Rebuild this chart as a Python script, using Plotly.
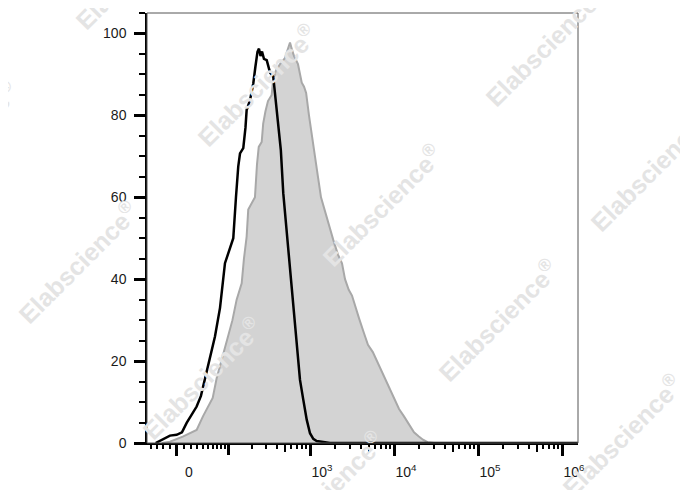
import numpy as np
import plotly.graph_objects as go

# ---------------- data (x = position on the biexponential display scale, in decades;
# 3.0 = 10^3, 4.0 = 10^4 ...; y = % of max) ----------------
black_x = [1.163, 1.268, 1.333, 1.413, 1.476, 1.532, 1.583, 1.651, 1.702, 1.770, 1.821,
           1.869, 1.929, 1.988, 2.027, 2.060, 2.087, 2.119, 2.146, 2.167, 2.206, 2.232,
           2.246, 2.286, 2.325, 2.351, 2.375, 2.393, 2.411, 2.429, 2.452, 2.485, 2.524,
           2.563, 2.607, 2.653, 2.682, 2.723, 2.762, 2.801, 2.842, 2.881, 2.920, 2.961,
           3.000, 3.039, 3.080, 3.155, 3.238, 6.19]
black_y = [0.0, 1.2, 1.8, 2.0, 2.6, 4.9, 6.5, 8.9, 11.5, 17.5, 22.0,
           26.0, 33.0, 43.9, 46.3, 48.5, 50.0, 60.0, 67.5, 70.7, 72.0, 77.0,
           81.3, 83.7, 87.8, 92.0, 95.5, 96.3, 94.5, 95.6, 93.8, 93.5, 90.5,
           89.4, 80.0, 71.5, 61.0, 51.2, 43.0, 34.0, 23.6, 15.4, 10.6, 5.7,
           2.4, 1.0, 0.5, 0.2, 0.0, 0.0]

gray_x = [1.238, 1.333, 1.492, 1.571, 1.651, 1.726, 1.770, 1.842, 1.889, 1.940, 2.008,
          2.077, 2.127, 2.187, 2.214, 2.246, 2.265, 2.286, 2.327, 2.345, 2.369, 2.390,
          2.425, 2.443, 2.470, 2.500, 2.544, 2.560, 2.595, 2.643, 2.702, 2.738, 2.762,
          2.786, 2.810, 2.857, 2.902, 2.929, 2.954, 2.988, 3.017, 3.060, 3.095, 3.131,
          3.174, 3.226, 3.277, 3.333, 3.381, 3.417, 3.461, 3.500, 3.539, 3.583, 3.643,
          3.690, 3.748, 3.798, 3.852, 3.905, 3.957, 4.012, 4.060, 4.119, 4.190, 4.238,
          4.296, 4.345, 4.400, 4.476]
gray_y = [0.0, 0.3, 1.6, 2.3, 3.2, 6.5, 8.1, 11.0, 15.8, 19.5, 24.4,
          30.0, 35.0, 39.0, 45.0, 50.4, 57.0, 57.7, 59.3, 60.0, 68.0, 72.3,
          73.5, 78.0, 81.0, 83.5, 85.0, 88.5, 91.0, 92.5, 94.0, 96.0, 97.8,
          96.0, 94.5, 92.5, 88.0, 87.0, 85.5, 80.0, 75.6, 70.0, 65.0, 60.0,
          56.9, 53.0, 49.6, 46.0, 43.9, 40.0, 37.4, 36.0, 33.3, 30.5, 26.8,
          24.0, 22.2, 20.0, 17.6, 15.0, 13.0, 10.5, 8.3, 6.5, 4.0, 2.6,
          1.6, 0.8, 0.2, 0.0]

# axis ticks (raw intensity values)
major_vals = [0, 1e3, 1e4, 1e5, 1e6]
major_text = ["0", "10<sup>3</sup>", "10<sup>4</sup>", "10<sup>5</sup>", "10<sup>6</sup>"]
unlabeled_major_vals = [100]
medium_vals = [500, 5e3, 5e4, 5e5]
minor_vals = ([-40, -30, -20, -10] + list(range(10, 100, 10)) +
              [m * 10 ** k for k in range(2, 6) for m in (2, 3, 4, 6, 7, 8, 9)])
y_major = [0, 20, 40, 60, 80, 100]
X_RANGE = [1.06, 6.19]
Y_RANGE = [0, 105]

# biexponential-like display transform
C = 10 ** 1.417


def biex(v):
    v = np.asarray(v, dtype=float)
    return np.log10(C) + np.arcsinh(v / (2 * C)) / np.log(10)


fig = go.Figure()
fig.add_trace(go.Scatter(x=gray_x, y=gray_y, mode="lines", fill="tozeroy",
                         fillcolor="#d3d3d3", line=dict(color="#a8a8a8", width=2),
                         hoverinfo="skip", showlegend=False))
fig.add_trace(go.Scatter(x=black_x, y=black_y, mode="lines",
                         line=dict(color="#000000", width=2.5),
                         hoverinfo="skip", showlegend=False))
# invisible traces hosting the overlay axes that carry extra tick sizes
for ax in ("x2", "x3"):
    fig.add_trace(go.Scatter(x=[X_RANGE[0]], y=[0], xaxis=ax, mode="markers",
                             marker=dict(opacity=0), hoverinfo="skip", showlegend=False))

font = dict(family="Liberation Sans, Arial, sans-serif", size=14, color="#1a1a1a")
overlay_common = dict(range=X_RANGE, overlaying="x", anchor="y", side="bottom",
                      showgrid=False, zeroline=False, showline=False,
                      showticklabels=False, tickmode="array", ticks="outside",
                      tickcolor="#000")

# the page body has an 8px default margin, so the figure is 8px smaller
# and its left/top margins 8px narrower to keep the plot where the reference has it
PAGE_OFFSET = 8
fig.update_layout(
    width=688 - PAGE_OFFSET, height=490 - PAGE_OFFSET,
    margin=dict(l=147 - PAGE_OFFSET, r=110, t=13 - PAGE_OFFSET, b=47, autoexpand=False),
    paper_bgcolor="white", plot_bgcolor="white",
    font=font,
    xaxis=dict(range=X_RANGE, showgrid=False, zeroline=False,
               showline=True, linecolor="#000", linewidth=2,
               tickmode="array", tickvals=list(biex(major_vals)), ticktext=major_text,
               ticks="outside", ticklen=11, tickwidth=3, tickcolor="#000",
               ticklabelshift=12, ticklabelstandoff=4,
               minor=dict(tickmode="array", tickvals=list(biex(minor_vals)),
                          ticks="outside", ticklen=4, tickwidth=1.5, tickcolor="#000",
                          showgrid=False)),
    xaxis2=dict(tickvals=list(biex(medium_vals)), ticklen=8, tickwidth=2, **overlay_common),
    xaxis3=dict(tickvals=list(biex(unlabeled_major_vals)), ticklen=11, tickwidth=3,
                **overlay_common),
    yaxis=dict(range=Y_RANGE, showgrid=False, zeroline=False,
               showline=True, linecolor="#000", linewidth=1.5,
               tickmode="array", tickvals=y_major,
               ticks="outside", ticklen=11, tickwidth=3, tickcolor="#000",
               ticklabelstandoff=5,
               minor=dict(dtick=5, tick0=0, ticks="outside", ticklen=6,
                          tickwidth=1.5, tickcolor="#000", showgrid=False)),
)

# thin frame on top/right
fig.add_shape(type="rect", xref="paper", yref="paper", x0=0, y0=0, x1=1, y1=1,
              line=dict(color="#555", width=1), layer="above")

# watermark (decoration), centres given in page pixels
WATERMARK_CENTERS_PX = [(135, -32), (-42, 142), (257, 85), (545, 45), (382, 205),
                        (78, 262), (650, 170), (202, 378), (498, 320), (324, 492),
                        (622, 435)]
PLOT_L, PLOT_R, PLOT_T, PLOT_B = 147, 578, 13, 443
for (px, py) in WATERMARK_CENTERS_PX:
    fig.add_annotation(text="Elabscience<sup>®</sup>", showarrow=False,
                       xref="paper", yref="paper",
                       x=(px - PLOT_L) / (PLOT_R - PLOT_L),
                       y=(PLOT_B - py) / (PLOT_B - PLOT_T),
                       xanchor="center", yanchor="middle", textangle=-45,
                       font=dict(family="Liberation Sans, Arial, sans-serif",
                                 size=25, color="#e4e4e4", weight="bold"))

fig.write_html("out.html")
